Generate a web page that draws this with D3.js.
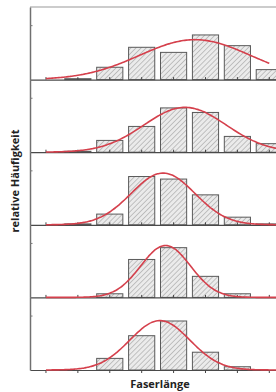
<!DOCTYPE html>
<html><head><meta charset="utf-8">
<script src="https://cdn.jsdelivr.net/npm/d3@7"></script>
<style>html,body{margin:0;padding:0;background:#fff;overflow:hidden}</style>
</head><body>
<svg id="chart" width="276" height="392"></svg>
<script>
// Bins (fibre-length classes) – no tick labels shown in the original
const categories = ["1","2","3","4","5","6","7","8"];
// relative frequency per panel (top to bottom), in %
const panel1 = [0, 0.5, 6.8, 17.8, 15.0, 24.6, 18.7, 5.5];
const panel2 = [0, 0.5, 6.5, 14.2, 24.4, 21.9, 8.7, 4.7];
const panel3 = [0, 0.5, 5.9, 26.6, 25.2, 16.5, 4.2, 0.5];
const panel4 = [0, 0, 2.0, 20.9, 27.4, 11.6, 2.0, 0];
const panel5 = [0, 0, 6.4, 18.9, 27.0, 9.8, 1.8, 0];
// fitted normal distribution per panel: mean (bin index), sd (bins), peak (%)
const fitMean = [4.67, 4.36, 3.67, 3.75, 3.57];
const fitSd   = [1.74, 1.29, 1.00, 0.78, 0.94];
const fitPeak = [22.0, 24.7, 28.5, 28.6, 27.2];
const fitEnd  = [7.0, 7.5, 7.5, 7.5, 7.5];
const yTicks = [30];
const yMax = 40;
const xTitle = "Faserlänge";
const yTitle = "relative Häufigkeit";

(function () {
const panels = [panel1, panel2, panel3, panel4, panel5];
const svg = d3.select("#chart");
const mLeft = 30, mRight = 285.25, mTop = 7, mBottom = 370;
const ph = (mBottom - mTop) / panels.length;

const defs = svg.append("defs");
const pat = defs.append("pattern").attr("id","hatch")
  .attr("patternUnits","userSpaceOnUse").attr("width",3.6).attr("height",3.6)
  .attr("patternTransform","rotate(45)");
pat.append("rect").attr("width",3.6).attr("height",3.6).attr("fill","#ebebeb");
pat.append("line").attr("x1",0).attr("y1",0).attr("x2",0).attr("y2",3.6)
  .attr("stroke","#8c8c8c").attr("stroke-width",0.9);

const xb = d3.scaleBand().domain(categories).range([mLeft, mRight])
  .paddingInner(0.18).paddingOuter(0.09);
const xc = d3.scaleLinear().domain([-0.5, categories.length - 0.5]).range([mLeft, mRight]);

// top border
svg.append("line").attr("x1",mLeft).attr("x2",mRight).attr("y1",mTop).attr("y2",mTop)
  .attr("stroke","#9a9a9a").attr("stroke-width",1.2);

panels.forEach((vals, p) => {
  const y0 = mTop + ph * p, y1 = mTop + ph * (p + 1);
  const y = d3.scaleLinear().domain([0, yMax]).range([y1, y0]);
  const g = svg.append("g");

  g.selectAll("rect.bar").data(vals.map((v,i)=>({v, c:categories[i]})).filter(d=>d.v>0))
    .enter().append("rect").attr("class","bar")
    .attr("x", d => xb(d.c)).attr("width", xb.bandwidth())
    .attr("y", d => y(d.v)).attr("height", d => y(0) - y(d.v))
    .attr("fill","url(#hatch)").attr("stroke","#5a5a5a").attr("stroke-width",1);

  const ax = g.append("g").attr("transform",`translate(0,${y1})`)
    .call(d3.axisBottom(xb).tickSize(p === panels.length - 1 ? 3 : -2.5).tickSizeOuter(0).tickFormat(""));
  ax.select(".domain").attr("stroke","#4a4a4a").attr("stroke-width",1.2);
  ax.selectAll(".tick line").attr("stroke","#444").attr("stroke-width",1);

  const ay = g.append("g").attr("transform",`translate(${mLeft},0)`)
    .call(d3.axisLeft(y).tickValues(yTicks).tickSize(-2.5).tickSizeOuter(0).tickFormat(""));
  ay.select(".domain").attr("stroke","#707070").attr("stroke-width",1.5);
  ay.selectAll(".tick line").attr("stroke","#777").attr("stroke-width",1);

  const m = fitMean[p], s = fitSd[p], a = fitPeak[p];
  const xs = d3.range(0, fitEnd[p] + 1e-9, 0.05);
  const line = d3.line().x(d => xc(d)).y(d => y(a * Math.exp(-((d - m) ** 2) / (2 * s * s))))
    .curve(d3.curveMonotoneX);
  g.append("path").datum(xs).attr("d", line).attr("fill","none")
    .attr("stroke","#d5404c").attr("stroke-width",1.6);
});

svg.append("text").attr("x",160).attr("y",388).attr("text-anchor","middle")
  .attr("font-family","'Open Sans', sans-serif").attr("font-weight","bold")
  .attr("font-size",11).attr("fill","#222").text(xTitle);
svg.append("text").attr("transform","translate(19,181) rotate(-90)").attr("text-anchor","middle")
  .attr("font-family","'Open Sans', sans-serif").attr("font-weight","bold")
  .attr("font-size",11).attr("fill","#222").text(yTitle);
})();
</script>
</body></html>
